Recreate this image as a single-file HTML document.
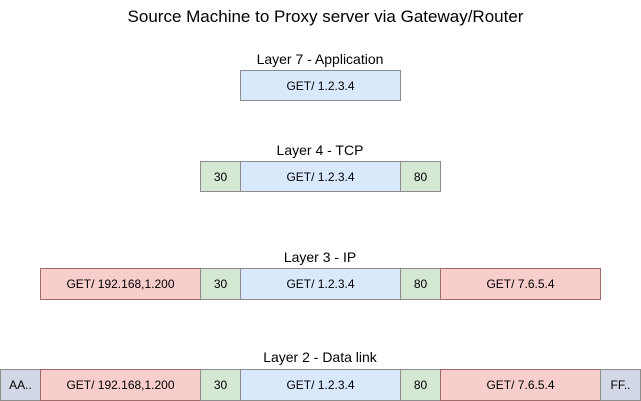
<!DOCTYPE html>
<html><head><style>
body{margin:0;width:641px;height:401px;background:#fff;position:relative;overflow:hidden;font-family:"Liberation Sans",Arial,sans-serif;color:#000}
.t{position:absolute;text-align:center;font-size:14px;white-space:nowrap}
.b{position:absolute;box-sizing:border-box;border:1px solid #8c8c8c;font-size:12px;display:flex;align-items:center;justify-content:center}
.bl{background:#dae8fc}.g{background:#d5e8d4}.r{background:#f8cecc;border-color:#9e6a68}.a{background:#d3d8e6}
</style></head><body>
<div class="t" style="left:0;width:651px;top:7px;font-size:17px">Source Machine to Proxy server via Gateway/Router</div>

<div class="t" style="left:220px;width:200px;top:51px">Layer 7 - Application</div>
<div class="b bl" style="left:240px;top:70px;width:161px;height:31px">GET/ 1.2.3.4</div>

<div class="t" style="left:220px;width:200px;top:142px">Layer 4 - TCP</div>
<div class="b g" style="left:200px;top:161px;width:41px;height:31px">30</div>
<div class="b bl" style="left:240px;top:161px;width:161px;height:31px">GET/ 1.2.3.4</div>
<div class="b g" style="left:400px;top:161px;width:41px;height:31px">80</div>

<div class="t" style="left:220px;width:200px;top:249px">Layer 3 - IP</div>
<div class="b r" style="left:40px;top:268px;width:161px;height:32px">GET/ 192.168,1.200</div>
<div class="b g" style="left:200px;top:268px;width:41px;height:32px">30</div>
<div class="b bl" style="left:240px;top:268px;width:161px;height:32px">GET/ 1.2.3.4</div>
<div class="b g" style="left:400px;top:268px;width:41px;height:32px">80</div>
<div class="b r" style="left:440px;top:268px;width:161px;height:32px">GET/ 7.6.5.4</div>

<div class="t" style="left:220px;width:200px;top:349px">Layer 2 - Data link</div>
<div class="b a" style="left:0px;top:369px;width:41px;height:32px">AA..</div>
<div class="b r" style="left:40px;top:369px;width:161px;height:32px">GET/ 192.168,1.200</div>
<div class="b g" style="left:200px;top:369px;width:41px;height:32px">30</div>
<div class="b bl" style="left:240px;top:369px;width:161px;height:32px">GET/ 1.2.3.4</div>
<div class="b g" style="left:400px;top:369px;width:41px;height:32px">80</div>
<div class="b r" style="left:440px;top:369px;width:161px;height:32px">GET/ 7.6.5.4</div>
<div class="b a" style="left:600px;top:369px;width:41px;height:32px">FF..</div>
</body></html>
